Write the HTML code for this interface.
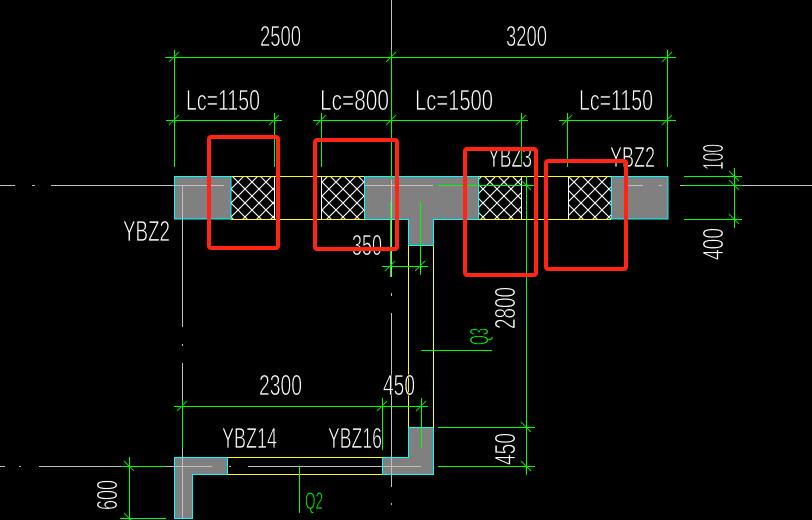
<!DOCTYPE html>
<html><head><meta charset="utf-8"><style>
html,body{margin:0;padding:0;background:#000;}
svg{display:block;}
text{font-family:"Liberation Sans Narrow","Liberation Sans",sans-serif;fill:#fff;stroke:#000;stroke-width:0.7px;}
</style></head><body>
<svg width="812" height="520" viewBox="0 0 812 520" xmlns="http://www.w3.org/2000/svg">
<defs>
<pattern id="h" patternUnits="userSpaceOnUse" width="14" height="14" x="0" y="0">
<path d="M0 0L14 14M0 14L14 0" stroke="#fff" stroke-width="1.1" fill="none"/>
</pattern>
</defs>
<rect width="812" height="520" fill="#000"/>

<!-- gray fills -->
<g fill="#808080">
<rect x="174" y="176" width="57" height="43"/>
<polygon points="364,176 478,176 478,219 433,219 433,245 408,245 408,219 364,219"/>
<rect x="611" y="176" width="57" height="43"/>
<polygon points="408,427 433,427 433,474 382,474 382,457 408,457"/>
<polygon points="174,457 227,457 227,474 192,474 192,518 174,518"/>
</g>

<!-- hatches -->
<rect x="231" y="176" width="43" height="43" fill="url(#h)"/>
<rect x="321" y="176" width="43" height="43" fill="url(#h)"/>
<rect x="478" y="176" width="43" height="43" fill="url(#h)"/>
<rect x="568" y="176" width="43" height="43" fill="url(#h)"/>
<g stroke="#fff" stroke-width="1">
<path d="M274.5 176V219M321.5 176V219M521.5 176V219M568.5 176V219"/>
</g>

<!-- gray center lines -->
<g stroke="#c0c0c0" stroke-width="1" fill="none">
<path d="M0 185.5H15M32 185.5H35M51 185.5H224M365 185.5H433M627 185.5H643M659 185.5H662M680 185.5H812"/>
<path d="M391.5 0V277M391.5 293V296M391.5 313V487M391.5 503V505"/>
<path d="M182.5 185V327M182.5 344V346M182.5 363V518"/>
<path d="M0 466.5H5M19 466.5H21M39 466.5H212M229 466.5H231M248 466.5H421"/>
</g>

<!-- yellow lines -->
<g stroke="#ffff00" stroke-width="1" fill="none">
<path d="M231 176.5H364M231 219.5H364M478 176.5H611M478 219.5H611"/>
<path d="M408.5 245V427M433.5 245V427"/>
<path d="M227 457.5H382M227 474.5H382"/>
</g>

<!-- cyan outlines -->
<g stroke="#00ffff" stroke-width="1" fill="none">
<rect x="174.5" y="176.5" width="56.5" height="42.5"/>
<polygon points="364.5,176.5 478.5,176.5 478.5,219.5 433.5,219.5 433.5,245.5 408.5,245.5 408.5,219.5 364.5,219.5"/>
<rect x="611.5" y="176.5" width="56.5" height="42.5"/>
<polygon points="408.5,427.5 433.5,427.5 433.5,474.5 382.5,474.5 382.5,457.5 408.5,457.5"/>
<polygon points="174.5,457.5 227.5,457.5 227.5,474.5 192.5,474.5 192.5,518.5 174.5,518.5"/>
</g>

<!-- green dimension lines -->
<g stroke="#00ff00" stroke-width="1" fill="none">
<path d="M165 57.5H676"/>
<path d="M166 120.5H282M313 120.5H528M559 120.5H676"/>
<path d="M174.5 50V167M274.5 113V167M321.5 113V167M391.5 50V180M521.5 113V167M567.5 113V167M667.5 50V167"/>
<path d="M734.5 168V228M684 176.5H742M684 185.5H742M684 219.5H742"/>
<path d="M526.5 176V475M438 185.5H535M438 427.5H535M438 466.5H535"/>
<path d="M382 266.5H428M390.5 202V277M420.5 202V275"/>
<path d="M174 406.5H428M182.5 400V448M382.5 398V450M421.5 398V448"/>
<path d="M129.5 457V520M121 466.5H166M120 518.5H166"/>
<path d="M299.5 466V513M421 350.5H492"/>
</g>
<!-- ticks -->
<g stroke="#00e000" stroke-width="1" fill="none">
<path d="M169 62L179 52M386 62L396 52M662 62L672 52"/>
<path d="M169 125L179 115M269 125L279 115M316 125L326 115M386 125L396 115M516 125L526 115M562 125L572 115M662 125L672 115"/>
<path d="M729 171L739 181M729 180L739 190M729 214L739 224"/>
<path d="M521 180L531 190M521 422L531 432M521 461L531 471"/>
<path d="M385 271L395 261M415 271L425 261"/>
<path d="M177 411L187 401M377 411L387 401M416 411L426 401"/>
<path d="M124 461L134 471M124 513L134 523"/>
</g>

<!-- texts -->
<g font-size="29">
<text x="260" y="46" textLength="41" lengthAdjust="spacingAndGlyphs">2500</text>
<text x="506" y="46" textLength="41" lengthAdjust="spacingAndGlyphs">3200</text>
<text x="186" y="110" textLength="74" lengthAdjust="spacingAndGlyphs">Lc=1150</text>
<text x="320" y="110" textLength="69" lengthAdjust="spacingAndGlyphs">Lc=800</text>
<text x="415" y="110" textLength="78" lengthAdjust="spacingAndGlyphs">Lc=1500</text>
<text x="579" y="110" textLength="74" lengthAdjust="spacingAndGlyphs">Lc=1150</text>
<text x="123" y="241" textLength="47" lengthAdjust="spacingAndGlyphs">YBZ2</text>
<text x="488" y="167" textLength="44" lengthAdjust="spacingAndGlyphs">YBZ3</text>
<text x="610" y="167" textLength="45" lengthAdjust="spacingAndGlyphs">YBZ2</text>
<text x="352" y="255" textLength="30" lengthAdjust="spacingAndGlyphs">350</text>
<text x="259" y="395" textLength="43" lengthAdjust="spacingAndGlyphs">2300</text>
<text x="383" y="395" textLength="32" lengthAdjust="spacingAndGlyphs">450</text>
<text x="222" y="448" textLength="55" lengthAdjust="spacingAndGlyphs">YBZ14</text>
<text x="328" y="448" textLength="54" lengthAdjust="spacingAndGlyphs">YBZ16</text>
<text transform="translate(515,329) rotate(-90)" x="0" y="0" textLength="42" lengthAdjust="spacingAndGlyphs">2800</text>
<text transform="translate(515,465) rotate(-90)" x="0" y="0" textLength="32" lengthAdjust="spacingAndGlyphs">450</text>
<text transform="translate(723,170) rotate(-90)" x="0" y="0" textLength="26" lengthAdjust="spacingAndGlyphs">100</text>
<text transform="translate(723,260) rotate(-90)" x="0" y="0" textLength="32" lengthAdjust="spacingAndGlyphs">400</text>
<text transform="translate(117,510) rotate(-90)" x="0" y="0" textLength="30" lengthAdjust="spacingAndGlyphs">600</text>
</g>
<text x="305" y="509" font-size="24" style="fill:#00ff00" textLength="18" lengthAdjust="spacingAndGlyphs">Q2</text>
<text transform="translate(488,345) rotate(-90)" font-size="26" style="fill:#00ff00" textLength="17" lengthAdjust="spacingAndGlyphs">Q3</text>

<!-- red rectangles -->
<g stroke="#ff2414" stroke-width="4" fill="none">
<rect x="209" y="137" width="69" height="111" rx="2"/>
<rect x="315" y="140" width="82" height="109" rx="2"/>
<rect x="465" y="149" width="71" height="126" rx="2"/>
<rect x="546" y="161" width="80" height="108" rx="2"/>
</g>
</svg>
</body></html>
